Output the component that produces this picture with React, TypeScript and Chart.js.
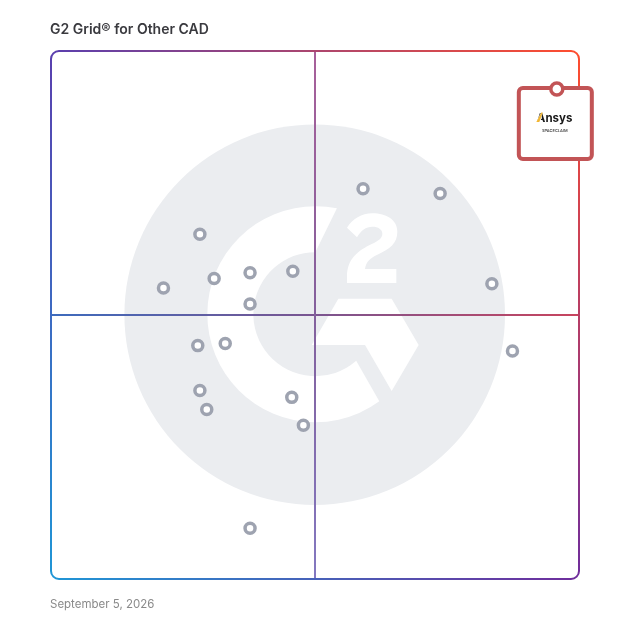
import React, { useEffect, useRef } from "react";
import { Chart, registerables, Plugin } from "chart.js";

Chart.register(...registerables);

const titleText = "G2 Grid® for Other CAD";
const dateText = "September 5, 2026";
const highlightName = "Ansys";
const highlightSub = "SPACECLAIM";

const satisfaction = [28.2, 21.3, 30.9, 37.7, 45.8, 37.7, 27.8, 33.0, 28.2, 29.5, 45.6, 47.8, 59.1, 73.7, 83.5, 87.4, 37.7];
const marketPresence = [65.3, 55.1, 56.9, 58.0, 58.3, 52.1, 44.2, 44.6, 35.7, 32.1, 34.4, 29.1, 73.9, 73.0, 55.9, 43.2, 9.6];
const highlightSatisfaction = [95.8];
const highlightPresence = [92.8];

const CORNER_TL = [90, 63, 174];
const CORNER_TR = [255, 77, 46];
const CORNER_BL = [31, 150, 214];
const CORNER_BR = [111, 45, 156];
const POINT_GRAY = "#9ea3b0";
const HIGHLIGHT = "#c25456";
const DISC = "#ebedf0";

function bilinearPattern(ctx: CanvasRenderingContext2D, a: any) {
  const w = ctx.canvas.width;
  const h = ctx.canvas.height;
  const off = document.createElement("canvas");
  off.width = w;
  off.height = h;
  const o = off.getContext("2d")!;
  const img = o.createImageData(w, h);
  for (let y = 0; y < h; y++) {
    const v = Math.min(1, Math.max(0, (y - a.top) / (a.bottom - a.top)));
    for (let x = 0; x < w; x++) {
      const u = Math.min(1, Math.max(0, (x - a.left) / (a.right - a.left)));
      const i = (y * w + x) * 4;
      for (let c = 0; c < 3; c++) {
        img.data[i + c] =
          (1 - v) * ((1 - u) * CORNER_TL[c] + u * CORNER_TR[c]) + v * ((1 - u) * CORNER_BL[c] + u * CORNER_BR[c]);
      }
      img.data[i + 3] = 255;
    }
  }
  o.putImageData(img, 0, 0);
  return ctx.createPattern(off, "no-repeat")!;
}

const backdrop: Plugin<"scatter"> = {
  id: "backdrop",
  beforeDatasetsDraw(chart) {
    const { ctx, chartArea: a } = chart;
    const cx = (a.left + a.right) / 2;
    const cy = (a.top + a.bottom) / 2;
    const s = (a.right - a.left) / 528;
    ctx.save();

    // watermark disc
    ctx.fillStyle = DISC;
    ctx.beginPath();
    ctx.arc(cx - 0.3 * s, cy - 0.3 * s, 190.3 * s, 0, Math.PI * 2);
    ctx.fill();

    // logo artwork, in 3x units around the centre
    const X = (z: number) => cx + ((z - 585) / 3) * s;
    const Y = (z: number) => cy + ((z - 585) / 3) * s;
    ctx.fillStyle = "#ffffff";

    const gx = 586;
    const gy = 582.5;
    const R = 324;
    const r = 186;
    const ang = (x: number, y: number) => Math.atan2(y - gy, x - gx);
    ctx.beginPath();
    ctx.arc(X(gx), Y(gy), (R / 3) * s, ang(651, 264), ang(779, 845), true);
    ctx.arc(X(gx), Y(gy), (r / 3) * s, ang(710, 724), ang(586, 396), false);
    ctx.closePath();
    ctx.fill();

    const hex = [
      [655, 536],
      [815, 536],
      [896, 675],
      [815, 813],
      [735, 675],
      [575, 675],
    ];
    ctx.beginPath();
    hex.forEach(([x, y], i) => (i ? ctx.lineTo(X(x), Y(y)) : ctx.moveTo(X(x), Y(y))));
    ctx.closePath();
    ctx.fill();

    const B = (a1: number, b1: number, a2: number, b2: number, a3: number, b3: number) =>
      ctx.bezierCurveTo(X(a1), Y(b1), X(a2), Y(b2), X(a3), Y(b3));
    ctx.beginPath();
    ctx.moveTo(X(681), Y(489));
    ctx.lineTo(X(829), Y(489));
    ctx.lineTo(X(829), Y(447));
    ctx.lineTo(X(735), Y(447));
    B(738, 425, 750, 415, 772, 404);
    B(810, 386, 832, 370, 832, 335);
    B(832, 300, 800, 280, 757, 280);
    B(725, 280, 697, 297, 681, 323);
    ctx.lineTo(X(711), Y(352));
    B(722, 332, 738, 320, 757, 320);
    B(775, 320, 787, 328, 787, 341);
    B(787, 355, 775, 362, 755, 372);
    B(715, 392, 681, 415, 681, 470);
    ctx.closePath();
    ctx.fill();

    // quadrant lines
    const xs = chart.scales.x.getPixelForValue(50);
    const ys = chart.scales.y.getPixelForValue(50);
    const hg = ctx.createLinearGradient(a.left, 0, a.right, 0);
    hg.addColorStop(0, "#3d6bbd");
    hg.addColorStop(0.5, "#7a5590");
    hg.addColorStop(1, "#c8445e");
    ctx.strokeStyle = hg;
    ctx.lineWidth = 2;
    ctx.beginPath();
    ctx.moveTo(a.left, ys);
    ctx.lineTo(a.right, ys);
    ctx.stroke();
    const vg = ctx.createLinearGradient(0, a.top, 0, a.bottom);
    vg.addColorStop(0, "#a8609a");
    vg.addColorStop(0.5, "#83609c");
    vg.addColorStop(1, "#8378c0");
    ctx.strokeStyle = vg;
    ctx.beginPath();
    ctx.moveTo(xs, a.top);
    ctx.lineTo(xs, a.bottom);
    ctx.stroke();

    // frame
    ctx.strokeStyle = bilinearPattern(ctx, a);
    ctx.lineWidth = 2;
    ctx.beginPath();
    ctx.roundRect(a.left, a.top, a.right - a.left, a.bottom - a.top, 8);
    ctx.stroke();

    // highlighted product card, hung from its point
    const px = chart.scales.x.getPixelForValue(highlightSatisfaction[0]);
    const py = chart.scales.y.getPixelForValue(highlightPresence[0]);
    const left = px - 38;
    const top = py - 1;
    ctx.fillStyle = "#ffffff";
    ctx.strokeStyle = HIGHLIGHT;
    ctx.lineWidth = 4;
    ctx.beginPath();
    ctx.roundRect(left, top, 73, 71, 4);
    ctx.fill();
    ctx.stroke();

    ctx.textAlign = "left";
    ctx.textBaseline = "alphabetic";
    ctx.fillStyle = "#1a1a1a";
    ctx.font = "700 11.5px Inter, 'Liberation Sans', sans-serif";
    const nameX = px - 20;
    const nameY = py + 33;
    ctx.fillText(highlightName, nameX, nameY);
    ctx.fillStyle = "#ffffff";
    ctx.beginPath();
    ctx.moveTo(nameX - 1, nameY + 1);
    ctx.lineTo(nameX + 4.5, nameY - 10);
    ctx.lineTo(nameX + 5.5, nameY - 10);
    ctx.lineTo(nameX + 3.5, nameY + 1);
    ctx.closePath();
    ctx.fill();
    ctx.fillStyle = "#f2b632";
    ctx.beginPath();
    ctx.moveTo(nameX - 0.5, nameY);
    ctx.lineTo(nameX + 4.5, nameY - 9.5);
    ctx.lineTo(nameX + 6, nameY - 9.5);
    ctx.lineTo(nameX + 2.5, nameY);
    ctx.closePath();
    ctx.fill();

    ctx.fillStyle = "#333333";
    ctx.font = "500 4px Inter, 'Liberation Sans', sans-serif";
    ctx.textAlign = "center";
    ctx.fillText(highlightSub, px - 2, py + 43);
    ctx.restore();
  },
};

export default function App() {
  const ref = useRef<HTMLCanvasElement>(null);
  useEffect(() => {
    const chart = new Chart(ref.current!, {
      type: "scatter",
      data: {
        datasets: [
          {
            label: "Products",
            data: satisfaction.map((x, i) => ({ x, y: marketPresence[i] })),
            pointRadius: 5,
            pointBorderWidth: 3.5,
            pointBackgroundColor: "#ffffff",
            pointBorderColor: POINT_GRAY,
            clip: false,
          },
          {
            label: highlightName,
            data: highlightSatisfaction.map((x, i) => ({ x, y: highlightPresence[i] })),
            pointRadius: 6,
            pointBorderWidth: 3.5,
            pointBackgroundColor: "#ffffff",
            pointBorderColor: HIGHLIGHT,
            clip: false,
          },
        ],
      },
      options: {
        responsive: false,
        animation: false,
        layout: { padding: { left: 51, top: 51, right: 49, bottom: 49 } },
        scales: {
          x: { type: "linear", min: 0, max: 100, display: false },
          y: { type: "linear", min: 0, max: 100, display: false },
        },
        plugins: { legend: { display: false }, tooltip: { enabled: false } },
      },
      plugins: [backdrop],
    });
    return () => chart.destroy();
  }, []);

  return (
    <div style={{ position: "absolute", left: 0, top: 0, width: 628, height: 628, background: "#fff", overflow: "hidden" }}>
      <canvas ref={ref} width={628} height={628} style={{ position: "absolute", left: 0, top: 0, display: "block" }} />
      <div
        style={{
          position: "absolute",
          left: 50,
          top: 20,
          font: "600 14px/18px Inter, sans-serif",
          color: "#3a3a3f",
          whiteSpace: "nowrap",
        }}
      >
        {titleText}
      </div>
      <div
        style={{
          position: "absolute",
          left: 50,
          top: 596,
          font: "400 11.5px/16px Inter, sans-serif",
          color: "#8a8a8a",
          whiteSpace: "nowrap",
        }}
      >
        {dateText}
      </div>
    </div>
  );
}
